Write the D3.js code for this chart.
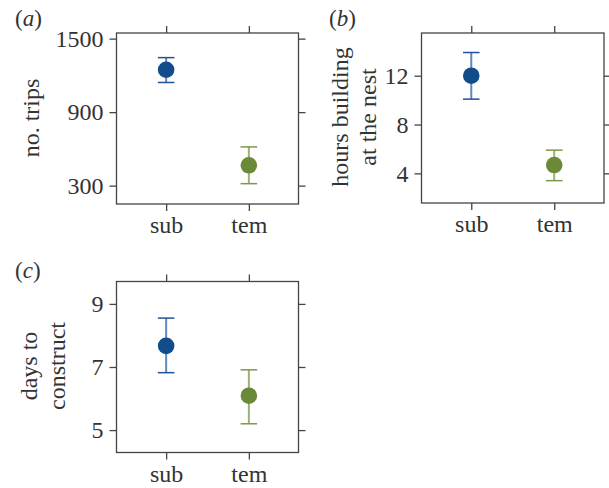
<!DOCTYPE html>
<html>
<head>
<meta charset="utf-8">
<script src="https://cdn.jsdelivr.net/npm/d3@7"></script>
<style>
  html, body { margin: 0; padding: 0; background: #fff; }
  svg { display: block; }
  text { font-family: "Liberation Serif", "Times New Roman", serif; fill: #333; }
</style>
</head>
<body>
<svg id="chart" width="609" height="488"></svg>
<script>
// ---- data ----
const categories = ["sub", "tem"];
const colors = ["#124c8a", "#6b8a38"];
const barColors = ["#5f88bd", "#9bb274"];
const capColors = ["#1d5596", "#7b9948"];

const tripsMean = [1246, 466];
const tripsLow = [1142, 316];
const tripsHigh = [1345, 616];
const tripsTicks = [300, 900, 1500];

const hoursMean = [12.0, 4.68];
const hoursLow = [10.08, 3.4];
const hoursHigh = [13.9, 5.9];
const hoursTicks = [4, 8, 12];

const daysMean = [7.67, 6.09];
const daysLow = [6.82, 5.2];
const daysHigh = [8.55, 6.91];
const daysTicks = [5, 7, 9];

const panels = [
  { letter: "a", title: ["no. trips"], mean: tripsMean, low: tripsLow, high: tripsHigh, ticks: tripsTicks,
    domain: [150, 1546], box: [116.5, 33, 298.5, 204], titleX: [39], titleY: 118 },
  { letter: "b", title: ["hours building", "at the nest"], mean: hoursMean, low: hoursLow, high: hoursHigh, ticks: hoursTicks,
    domain: [1.57, 15.5], box: [421.5, 33, 604, 203], titleX: [348, 376], titleY: 117 },
  { letter: "c", title: ["days to", "construct"], mean: daysMean, low: daysLow, high: daysHigh, ticks: daysTicks,
    domain: [4.29, 9.71], box: [116.5, 281.5, 298.5, 452.5], titleX: [37, 65], titleY: 366 }
];
const letterPos = { a: [15, 26], b: [329, 26], c: [15, 278] };

const svg = d3.select("#chart");
const tickLen = 7;

panels.forEach(p => {
  const [x0, y0, x1, y1] = p.box;
  const x = d3.scalePoint().domain(categories).range([x0, x1]).padding(0.6);
  const y = d3.scaleLinear().domain(p.domain).range([y1, y0]);
  const g = svg.append("g");

  // axes
  const left = g.append("g").attr("transform", `translate(${x0},0)`)
    .call(d3.axisLeft(y).tickValues(p.ticks).tickFormat(d3.format("d")).tickSizeInner(tickLen).tickSizeOuter(0).tickPadding(6));
  const right = g.append("g").attr("transform", `translate(${x1},0)`)
    .call(d3.axisRight(y).tickValues(p.ticks).tickSizeInner(tickLen).tickSizeOuter(0).tickFormat(""));
  const top = g.append("g").attr("transform", `translate(0,${y0})`)
    .call(d3.axisTop(x).tickSizeInner(tickLen).tickSizeOuter(0).tickFormat(""));
  const bottom = g.append("g").attr("transform", `translate(0,${y1})`)
    .call(d3.axisBottom(x).tickSizeInner(tickLen).tickSizeOuter(0).tickPadding(5));
  [left, right, top, bottom].forEach(a => {
    a.attr("font-family", null).attr("font-size", null);
    a.select(".domain").remove();
    a.selectAll("line").attr("stroke", "#444").attr("stroke-width", 1.3);
    a.selectAll("text").style("font-size", "24px").attr("fill", "#333");
  });

  // box
  g.append("rect").attr("x", x0).attr("y", y0).attr("width", x1 - x0).attr("height", y1 - y0)
    .attr("fill", "none").attr("stroke", "#444").attr("stroke-width", 1.3);

  // error bars
  const cap = 8.3;
  categories.forEach((c, i) => {
    const cx = x(c);
    g.append("line").attr("x1", cx).attr("x2", cx).attr("y1", y(p.low[i])).attr("y2", y(p.high[i]))
      .attr("stroke", barColors[i]).attr("stroke-width", 2);
    [p.low[i], p.high[i]].forEach(v => {
      g.append("line").attr("x1", cx - cap).attr("x2", cx + cap).attr("y1", y(v)).attr("y2", y(v))
        .attr("stroke", capColors[i]).attr("stroke-width", 1.5);
    });
    g.append("circle").attr("cx", cx).attr("cy", y(p.mean[i])).attr("r", 8.3).attr("fill", colors[i]);
  });

  // axis title
  p.title.forEach((t, k) => {
    g.append("text").attr("transform", `translate(${p.titleX[k]},${p.titleY}) rotate(-90)`)
      .attr("text-anchor", "middle").style("font-size", "24px").text(t);
  });

  // panel letter
  const [lx, ly] = letterPos[p.letter];
  const lt = g.append("text").attr("x", lx).attr("y", ly).style("font-size", "23px");
  lt.append("tspan").text("(");
  lt.append("tspan").style("font-style", "italic").text(p.letter);
  lt.append("tspan").text(")");
});
</script>
</body>
</html>
